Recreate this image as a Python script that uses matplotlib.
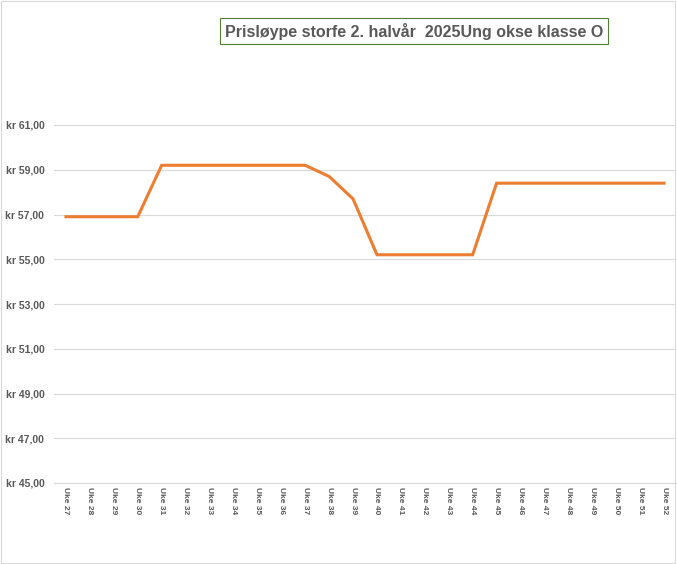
import numpy as np
import matplotlib.pyplot as plt
from matplotlib.patches import Rectangle

weeks = ['Uke %d' % w for w in range(27, 53)]
prices = [56.9, 56.9, 56.9, 56.9, 59.2, 59.2, 59.2, 59.2, 59.2, 59.2, 59.2,
          58.7, 57.7, 55.2, 55.2, 55.2, 55.2, 55.2,
          58.4, 58.4, 58.4, 58.4, 58.4, 58.4, 58.4, 58.4]
yticks = [45, 47, 49, 51, 53, 55, 57, 59, 61]

plt.rcParams['font.family'] = ['Liberation Sans', 'DejaVu Sans']

fig = plt.figure(figsize=(6.77, 5.64), dpi=100)
ax = fig.add_axes([54/677, 81/564, 622/677, (483-125)/564])

x = np.arange(len(weeks))
ax.plot(x, prices, color='#ED7D31', lw=2.2, solid_joinstyle='miter')

ax.set_xlim(-0.5, len(weeks) - 0.5)
ax.set_ylim(45, 61)
ax.set_yticks(yticks)
ax.set_yticklabels(['kr %d,00' % v for v in yticks], fontsize=7.5, fontweight='bold', color='#595959')
ax.set_xticks(x)
ax.set_xticklabels(weeks, rotation=-90, fontsize=6, fontweight='bold', color='#595959')
ax.tick_params(axis='y', length=0, pad=7)
ax.tick_params(axis='x', length=0, pad=3)
ax.grid(axis='y', color='#d9d9d9', lw=0.8)
ax.set_axisbelow(True)
for s in ['top', 'right', 'left']:
    ax.spines[s].set_visible(False)
ax.spines['bottom'].set_color('#d9d9d9')

fig.text(225/677, 1 - 31/564, 'Prisløype storfe 2. halvår  2025Ung okse klasse O',
         fontsize=11.5, fontweight='bold', color='#595959', va='center', ha='left',
         bbox=dict(boxstyle='square,pad=0.3', fc='white', ec='#548235', lw=0.8))

fig.patches.append(Rectangle((1/677, 1/564), 674/677, 562/564, transform=fig.transFigure,
                             fill=False, ec='#d9d9d9', lw=0.8))

fig.savefig('out.png', dpi=100)
